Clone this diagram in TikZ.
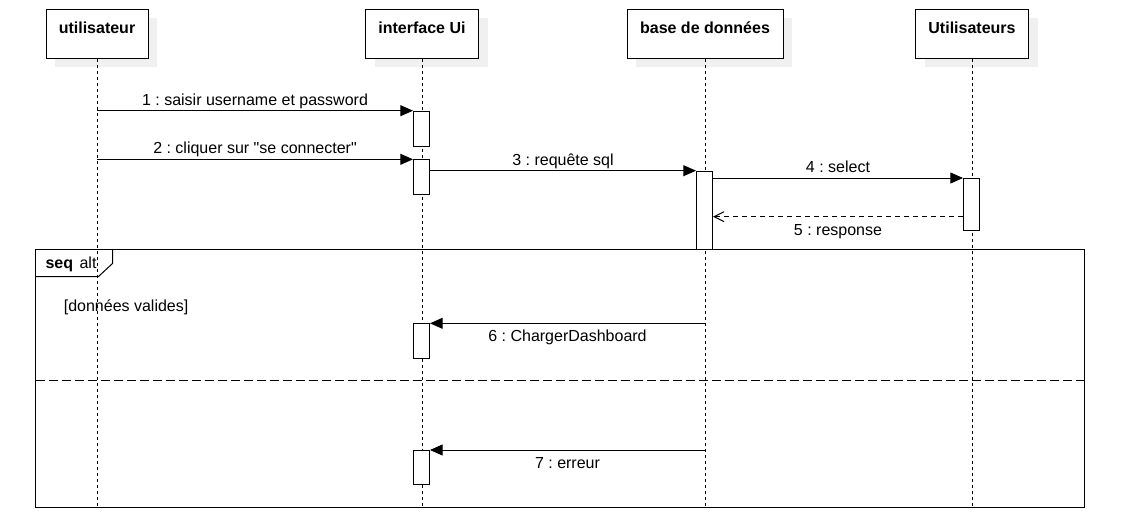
\documentclass[tikz,border=0pt]{standalone}
\usepackage{fontspec}
\setmainfont{Liberation Sans}[Ligatures=TeXOff]
\frenchspacing
\usetikzlibrary{positioning, arrows.meta, shadows}

\begin{document}
\begin{tikzpicture}[x=1pt, y=-1pt, >={Triangle[length=12.7pt, width=11pt]}, on grid, line width=1pt,
    font=\fontsize{16pt}{19pt}\selectfont,
    head/.style={draw, fill=white, inner sep=0pt, text height=24pt, text depth=25pt,
        font=\fontsize{16pt}{19pt}\selectfont\bfseries,
        drop shadow={shadow xshift=9pt, shadow yshift=-9pt, fill=black!6, opacity=1}},
    lifeline/.style={dash pattern=on 3pt off 3pt},
    act/.style={draw, fill=white, minimum width=16pt, inner sep=0pt, anchor=north west},
    lblup/.style={midway, anchor=base, yshift=5.5pt},
    lbldown/.style={midway, anchor=base, yshift=-18.5pt},
    reply/.style={dash pattern=on 5pt off 4pt, -{Straight Barb[length=10pt, width=10pt]}}]
    \useasboundingbox (0,0) rectangle (1135,530);

    % Lifelines
    \node[head, minimum width=102pt] (user) at (97,33.5) {utilisateur};
    \node[head, minimum width=113pt] (ui) [right=325pt of user] {interface Ui};
    \node[head, minimum width=156pt] (bdd) [right=283pt of ui] {base de données};
    \node[head, minimum width=113pt] (users) [right=267pt of bdd] {Utilisateurs};
    \coordinate (bottom) at (0,507.5);
    \foreach \n in {user, ui, bdd, users}
        \draw[lifeline] (\n.south) -- (\n.south |- bottom);

    % Activations
    \node[act, minimum height=35pt] (act1) at (413,110.7) {};
    \node[act, minimum height=35pt] (act2) at (413,159.3) {};
    \node[act, minimum height=78.6pt] (act3) at (696,170.7) {};
    \node[act, minimum height=51.7pt] (act4) at (963,178) {};
    \node[act, minimum height=35pt] (act6) at (413,323.3) {};
    \node[act, minimum height=34.3pt] (act7) at (413,450) {};

    % Fragment
    \draw (35.5,249.5) rectangle (1084.5,507.5);
    \draw (35.5,276.7) -- (98.3,276.7) -- (112.7,263.3) -- (112.7,249.5);
    \node[anchor=base west] (alt) at (41.7,268.3) {\textbf{seq}\hspace{6.5pt}alt};
    \node[anchor=base west] (guard) at (60,311) {[données valides]};
    \draw[dash pattern=on 9pt off 4pt] (35.5,380.7) -- (1084.5,380.7);

    % Messages
    \coordinate (r5) at ([yshift=14pt]act4.south west);
    \path[->]
        (act1.north west -| user) edge node[lblup] {1 : saisir username et password} (act1.north west)
        (act2.north west -| user) edge node[lblup] {2 : cliquer sur "se connecter"} (act2.north west)
        (act3.north west -| act2.east) edge node[lblup] {3 : requête sql} (act3.north west)
        (act4.north west -| act3.east) edge node[lblup] {4 : select} (act4.north west)
        (r5) edge[reply] node[lbldown] {5 : response} (r5 -| act3.east)
        (act6.north east -| bdd) edge node[lbldown] {6 : ChargerDashboard} (act6.north east)
        (act7.north east -| bdd) edge node[lbldown] {7 : erreur} (act7.north east);
\end{tikzpicture}
\end{document}
